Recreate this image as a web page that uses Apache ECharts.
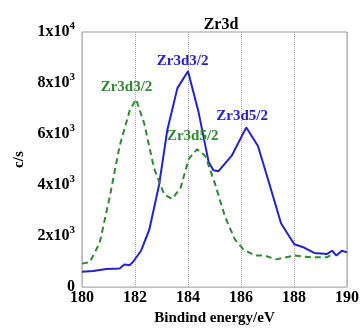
<!DOCTYPE html>
<html>
<head>
<meta charset="utf-8">
<script src="https://cdn.jsdelivr.net/npm/echarts@6/dist/echarts.min.js"></script>
<style>
  html, body { margin: 0; padding: 0; background: #fff; }
  #chart { width: 362px; height: 331px; }
</style>
</head>
<body>
<div id="chart"></div>
<script>
// binding energy (eV) / counts per second
const blueEnergy = [180, 180.42, 180.92, 181.42, 181.6, 181.8, 181.92, 182.23, 182.54, 182.91, 183.22, 183.6, 184.0, 184.4, 184.78, 184.96, 185.15, 185.65, 186.2, 186.64, 187.08, 187.51, 188.01, 188.38, 188.76, 189.25, 189.44, 189.6, 189.81, 190]
const blueCounts = [606, 630, 707, 731, 884, 860, 985, 1426, 2250, 4015, 6160, 7800, 8460, 6850, 4900, 4580, 4545, 5150, 6260, 5530, 4015, 2500, 1680, 1550, 1340, 1300, 1426, 1237, 1426, 1360]

const greenEnergy = [180, 180.3, 180.67, 181.04, 181.42, 181.8, 182.04, 182.35, 182.72, 183.1, 183.4, 183.72, 184.03, 184.34, 184.65, 185.03, 185.4, 185.77, 186.08, 186.52, 186.89, 187.33, 188.01, 188.63, 189.25, 189.45]
const greenCounts = [920, 985, 1740, 3510, 5530, 6920, 7360, 6410, 4650, 3640, 3450, 3890, 5030, 5400, 5150, 4015, 2750, 1870, 1490, 1237, 1237, 1087, 1237, 1170, 1170, 1300]

const yTickLabels = { 0: '0', 2000: '{a|2x10}{s|3}', 4000: '{a|4x10}{s|3}', 6000: '{a|6x10}{s|3}', 8000: '{a|8x10}{s|3}', 10000: '{a|1x10}{s|4}' }

const blueLabels = [['Zr3d3/2', 183.8, 8860], ['Zr3d5/2', 186.04, 6700]]
const greenLabels = [['Zr3d3/2', 181.68, 7840], ['Zr3d5/2', 184.18, 5910]]

const BLUE = '#2222cc'
const GREEN = '#2e8a2e'
const serif = '"Liberation Serif", "DejaVu Serif", serif'

const chart = echarts.init(document.getElementById('chart'))

// peak names sit on invisible points at data coordinates
const peakLabels = (list, color) => ({
  symbol: 'circle',
  symbolSize: 1,
  itemStyle: { color: 'rgba(0,0,0,0)' },
  label: {
    show: true,
    position: 'inside',
    formatter: p => p.name,
    color: color,
    fontFamily: serif,
    fontWeight: 'bold',
    fontSize: 15
  },
  data: list.map(([name, x, y]) => ({ name: name, coord: [x, y] }))
})

const option = {
  animation: false,
  title: {
    text: 'Zr3d',
    left: 216,
    textAlign: 'center',
    top: 12,
    textStyle: { fontFamily: serif, fontSize: 16, fontWeight: 'bold', color: '#000' }
  },
  grid: {
    left: 82,
    right: 12,
    top: 32,
    bottom: 35,
    show: true,
    borderColor: '#999',
    borderWidth: 1
  },
  xAxis: {
    type: 'value',
    min: 180,
    max: 190,
    interval: 2,
    name: 'Bindind energy/eV',
    nameLocation: 'middle',
    nameGap: 21,
    nameTextStyle: { fontFamily: serif, fontSize: 15, fontWeight: 'bold', color: '#000' },
    axisLine: { show: false },
    axisTick: { show: false },
    axisLabel: { fontFamily: serif, fontSize: 16, fontWeight: 'bold', color: '#000', margin: 3 },
    splitLine: { show: true, lineStyle: { type: 'dotted', color: '#aaa' } }
  },
  yAxis: {
    type: 'value',
    min: 0,
    max: 10000,
    interval: 2000,
    name: 'c/s',
    nameLocation: 'middle',
    nameGap: 55,
    nameTextStyle: { fontFamily: serif, fontSize: 15, fontWeight: 'bold', color: '#000' },
    axisLine: { show: false },
    axisTick: { show: false },
    splitLine: { show: false },
    axisLabel: {
      margin: 7,
      color: '#000',
      fontFamily: serif,
      fontSize: 16,
      fontWeight: 'bold',
      formatter: v => yTickLabels[v],
      rich: {
        a: { fontFamily: serif, fontSize: 16, fontWeight: 'bold', color: '#000' },
        s: { fontFamily: serif, fontSize: 11, fontWeight: 'bold', color: '#000', verticalAlign: 'top', padding: [0, 0, 12, 0] }
      }
    }
  },
  series: [
    {
      type: 'line',
      data: blueEnergy.map((x, i) => [x, blueCounts[i]]),
      showSymbol: false,
      lineStyle: { color: BLUE, width: 2 },
      itemStyle: { color: BLUE },
      markPoint: peakLabels(blueLabels, BLUE)
    },
    {
      type: 'line',
      data: greenEnergy.map((x, i) => [x, greenCounts[i]]),
      showSymbol: false,
      lineStyle: { color: GREEN, width: 2, type: [6, 4] },
      itemStyle: { color: GREEN },
      markPoint: peakLabels(greenLabels, GREEN)
    }
  ]
}

chart.setOption(option)
</script>
</body>
</html>
